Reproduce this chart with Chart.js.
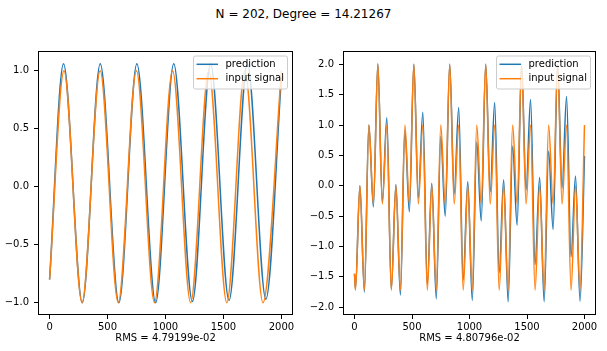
<!DOCTYPE html>
<html>
<head>
<meta charset="utf-8">
<script src="https://cdn.jsdelivr.net/npm/chart.js@4.4.0/dist/chart.umd.min.js"></script>
<style>
html,body{margin:0;padding:0;background:#fff;}
#wrap{position:relative;width:607px;height:351px;overflow:hidden;font-family:"DejaVu Sans",sans-serif;}
#title{position:absolute;left:0;top:6px;width:607px;text-align:center;font-size:12px;line-height:16px;color:#000;}
.box{position:absolute;top:40px;height:311px;}
#b1{left:0;width:300px;}
#b2{left:300px;width:307px;}
</style>
</head>
<body>
<div id="wrap">
  <div id="title">N = 202, Degree = 14.21267</div>
  <div class="box" id="b1"><canvas id="c1"></canvas></div>
  <div class="box" id="b2"><canvas id="c2"></canvas></div>
</div>
<script>
const xTicks = [0, 500, 1000, 1500, 2000];
const leftYTicks = [-1.0, -0.5, 0.0, 0.5, 1.0];
const rightYTicks = [-2.0, -1.5, -1.0, -0.5, 0.0, 0.5, 1.0, 1.5, 2.0];
const seriesNames = ["prediction", "input signal"];
const rmsText = ["RMS = 4.79199e-02", "RMS = 4.80796e-02"];

// left panel (peaks / troughs)
const leftPredX = [0, 120, 282, 437, 598, 753, 915, 1071, 1232, 1389, 1548, 1707, 1866, 2000];
const leftPredY = [-0.8, 1.06, -1.0, 1.06, -1.0, 1.06, -1.0, 1.06, -0.99, 1.06, -0.98, 1.06, -0.97, 0.95];
const leftInX = [0, 124, 280, 436, 592, 749, 905, 1061, 1217, 1373, 1529, 1685, 1841, 2000];
const leftInY = [-0.8, 1.0, -1.0, 1.0, -1.0, 1.0, -1.0, 1.0, -1.0, 1.0, -1.0, 1.0, -1.0, 1.0];

// right panel, same x for both series
const rightX = [0, 8,
  47, 86, 125, 164, 203, 242, 281, 320,
  360, 399, 438, 477, 516, 555, 594, 633,
  672, 711, 750, 789, 828, 867, 906, 945,
  985, 1024, 1063, 1102, 1141, 1180, 1219, 1258,
  1297, 1336, 1375, 1414, 1453, 1492, 1531, 1570,
  1610, 1649, 1688, 1727, 1766, 1805, 1844, 1883,
  1922, 1961, 2000];
const rightIn = [-1.45, -1.72,
  0.0, -1.72, 1.0, -0.3, 2.0, -0.3, 1.0, -1.72,
  0.0, -1.72, 1.0, -0.3, 2.0, -0.3, 1.0, -1.72,
  0.0, -1.72, 1.0, -0.3, 2.0, -0.3, 1.0, -1.72,
  0.0, -1.72, 1.0, -0.3, 2.0, -0.3, 1.0, -1.72,
  0.0, -1.72, 1.0, -0.3, 2.0, -0.3, 1.0, -1.72,
  0.0, -1.72, 1.0, -0.3, 2.0, -0.3, 1.0, -1.72,
  0.0, -1.72, 1.0];
const rightPred = [-1.45, -1.70,
  0.0, -1.75, 1.0, -0.35, 2.01, -0.27, 1.12, -1.70,
  0.02, -1.80, 0.91, -0.43, 2.0, -0.20, 1.21, -1.63,
  0.04, -1.86, 0.81, -0.50, 2.0, -0.13, 1.29, -1.55,
  0.07, -1.89, 0.72, -0.58, 2.0, -0.10, 1.37, -1.43,
  0.10, -1.91, 0.65, -0.65, 1.99, -0.07, 1.42, -1.30,
  0.14, -1.91, 0.57, -0.72, 2.0, -0.04, 1.47, -1.17,
  0.16, -1.90, 0.49];

const BLUE = "#1f77b4", ORANGE = "#ff7f0e";
const FONT = "DejaVu Sans";

function pts(xs, ys) { return xs.map((x, i) => ({x: x, y: ys[i]})); }
function fmt(v) { return v.toFixed(1).replace("-", "\u2212"); }

// frame (all four spines) + matplotlib style legend
const frame = {
  id: "frame",
  afterDatasetsDraw(chart) {
    const {ctx, chartArea: a} = chart;
    ctx.save();
    ctx.strokeStyle = "#000";
    ctx.lineWidth = 1;
    ctx.strokeRect(Math.round(a.left) + 0.5, Math.round(a.top) + 0.5,
      Math.round(a.right - a.left) - 1, Math.round(a.bottom - a.top) - 1);
    // legend
    const w = 94, h = 33;
    const x = a.right - 5.5 - w, y = a.top + 5;
    ctx.beginPath();
    ctx.roundRect(x, y, w, h, 2);
    ctx.fillStyle = "rgba(255,255,255,0.8)";
    ctx.fill();
    ctx.strokeStyle = "#cccccc";
    ctx.stroke();
    ctx.font = "10px '" + FONT + "'";
    ctx.textBaseline = "middle";
    ctx.textAlign = "left";
    chart.data.datasets.forEach((ds, i) => {
      const ly = y + 8.3 + i * 14.4;
      ctx.strokeStyle = ds.borderColor;
      ctx.lineWidth = 1.5;
      ctx.beginPath();
      ctx.moveTo(x + 3, ly);
      ctx.lineTo(x + 24.5, ly);
      ctx.stroke();
      ctx.fillStyle = "#000";
      ctx.fillText(ds.label, x + 32, ly);
    });
    ctx.restore();
  }
};

function makeChart(id, pred, inp, yTicks, ymin, ymax, yw, padRight, rms) {
  return new Chart(document.getElementById(id), {
    type: "line",
    data: {
      datasets: [
        {label: seriesNames[0], data: pred, borderColor: BLUE, order: 2},
        {label: seriesNames[1], data: inp, borderColor: ORANGE, order: 1}
      ].map(d => Object.assign(d, {
        borderWidth: 1.5, pointRadius: 0, fill: false,
        cubicInterpolationMode: "monotone"
      }))
    },
    options: {
      responsive: true,
      maintainAspectRatio: false,
      animation: false,
      layout: {padding: {top: 3, right: padRight, left: 0, bottom: 0}},
      plugins: {legend: {display: false}, tooltip: {enabled: false}},
      scales: {
        x: {
          type: "linear", min: -100, max: 2100,
          afterBuildTicks: s => { s.ticks = xTicks.map(v => ({value: v})); },
          afterFit: s => { s.height = 36; },
          grid: {drawOnChartArea: false, drawTicks: true, tickLength: 4, tickColor: "#000"},
          border: {display: false},
          ticks: {color: "#000", font: {family: FONT, size: 10}, padding: 2,
                  maxRotation: 0, autoSkip: false, callback: v => String(v)},
          title: {display: true, text: rms, color: "#000",
                  font: {family: FONT, size: 10}, padding: {top: 0, bottom: 6.5}}
        },
        y: {
          type: "linear", min: ymin, max: ymax,
          afterBuildTicks: s => { s.ticks = yTicks.map(v => ({value: v})); },
          afterFit: s => { s.width = yw; },
          grid: {drawOnChartArea: false, drawTicks: true, tickLength: 4, tickColor: "#000"},
          border: {display: false},
          ticks: {color: "#000", font: {family: FONT, size: 10}, padding: 5,
                  autoSkip: false, callback: v => fmt(v)}
        }
      }
    },
    plugins: [frame]
  });
}

makeChart("c1", pts(leftPredX, leftPredY), pts(leftInX, leftInY),
  leftYTicks, -1.106, 1.17, 38, 7, rmsText[0]);
makeChart("c2", pts(rightX, rightPred), pts(rightX, rightIn),
  rightYTicks, -2.128, 2.219, 43, 11, rmsText[1]);
</script>
</body>
</html>
